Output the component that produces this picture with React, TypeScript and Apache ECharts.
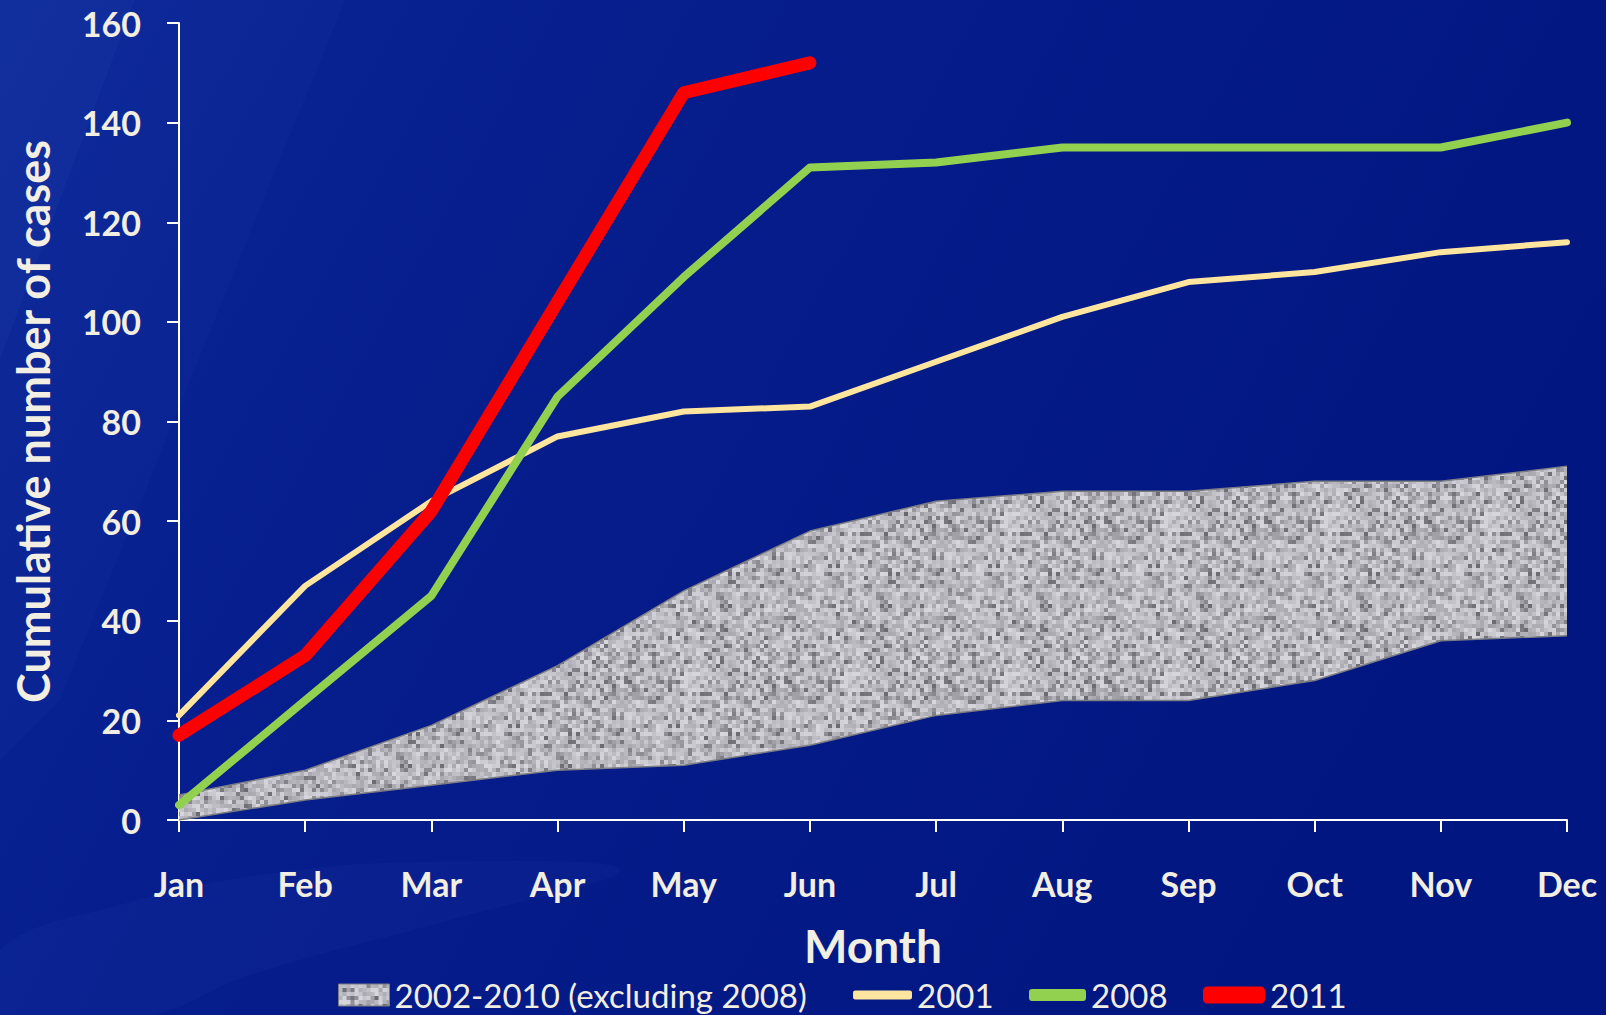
import React, { useEffect, useRef } from "react";
import * as echarts from "echarts";

const months = ["Jan", "Feb", "Mar", "Apr", "May", "Jun", "Jul", "Aug", "Sep", "Oct", "Nov", "Dec"];
const bandLow = [0, 4, 7, 10, 11, 15, 21, 24, 24, 28, 36, 37];
const bandHigh = [5, 10, 19, 31, 46, 58, 64, 66, 66, 68, 68, 71];
const cases2001 = [21, 47, 64, 77, 82, 83, 92, 101, 108, 110, 114, 116];
const cases2008 = [3, 24, 45, 85, 109, 131, 132, 135, 135, 135, 135, 140];
const cases2011 = [17, 33, 62, 104, 146, 152];
const yMin = 0;
const yMax = 160;
const yStep = 20;

const BAND_NAME = "2002-2010 (excluding 2008)";
const TEXT = "#f2eee2";
const FONT = "Lato, 'Noto Sans', sans-serif";

function makeNoiseCanvas(): HTMLCanvasElement {
  const c = document.createElement("canvas");
  const cells = 40;
  const px = 4;
  c.width = cells * px;
  c.height = cells * px;
  const ctx = c.getContext("2d") as CanvasRenderingContext2D;
  let s = 987654321;
  const rnd = () => {
    s = (s * 1103515245 + 12345) % 2147483648;
    return s / 2147483648;
  };
  for (let y = 0; y < cells; y++) {
    for (let x = 0; x < cells; x++) {
      let v = 168 + Math.floor(rnd() * 48);
      const r = rnd();
      if (r < 0.1) v = 105 + Math.floor(rnd() * 40);
      else if (r < 0.22) v = 140 + Math.floor(rnd() * 25);
      ctx.fillStyle = `rgb(${v},${v},${v + 6})`;
      ctx.fillRect(x * px, y * px, px, px);
    }
  }
  return c;
}

export default function App() {
  const ref = useRef<HTMLDivElement>(null);
  useEffect(() => {
    document.body.style.margin = "0";
    if (!ref.current) return;
    const chart = echarts.init(ref.current, undefined, { renderer: "svg" });
    const noise = makeNoiseCanvas();
    const pattern: any = { image: noise, repeat: "repeat" };
    const bandDiff = bandHigh.map((v, i) => v - bandLow[i]);

    const legendText = { color: TEXT, fontFamily: FONT, fontSize: 33, lineHeight: 36 };
    const legendBase = {
      top: 977,
      padding: 0,
      selectedMode: false,
      textStyle: legendText,
    };

    chart.setOption({
      animation: false,
      backgroundColor: new echarts.graphic.LinearGradient(0, 0, 1, 0.35, [
        { offset: 0, color: "#0b2797" },
        { offset: 0.4, color: "#061d8c" },
        { offset: 1, color: "#011680" },
      ]),
      graphic: [
        {
          type: "polygon",
          z: -10,
          silent: true,
          shape: { points: [[0, 0], [135, 0], [0, 360]] },
          style: { fill: "rgba(120,150,255,0.07)" },
        },
        {
          type: "polygon",
          z: -10,
          silent: true,
          shape: { points: [[135, 0], [345, 0], [60, 700], [0, 760], [0, 360]] },
          style: { fill: "rgba(120,150,255,0.035)" },
        },
        {
          type: "polygon",
          z: -10,
          silent: true,
          shape: {
            points: [[0, 1015], [0, 950], [120, 905], [260, 875], [420, 862], [620, 870], [450, 920], [250, 975], [150, 1015]],
            smooth: 0.4,
          },
          style: { fill: "rgba(120,150,255,0.04)" },
        },
      ],
      grid: { left: 179, right: 39, top: 23, bottom: 195, containLabel: false },
      legend: [
        {
          ...legendBase,
          left: 338,
          icon: "rect",
          itemWidth: 51,
          itemHeight: 22,
          data: [{ name: BAND_NAME, itemStyle: { color: pattern, borderColor: "#7c7c84", borderWidth: 1 } }],
        },
        {
          ...legendBase,
          left: 853,
          icon: "roundRect",
          itemWidth: 59,
          itemHeight: 9,
          data: [{ name: "2001", itemStyle: { color: "#ffe59e" } }],
        },
        {
          ...legendBase,
          left: 1029,
          icon: "roundRect",
          itemWidth: 57,
          itemHeight: 12,
          data: [{ name: "2008", itemStyle: { color: "#92d050" } }],
        },
        {
          ...legendBase,
          left: 1203,
          icon: "roundRect",
          itemWidth: 62,
          itemHeight: 17,
          data: [{ name: "2011", itemStyle: { color: "#ff0000" } }],
        },
      ],
      xAxis: {
        type: "category",
        data: months,
        boundaryGap: false,
        name: "Month",
        nameLocation: "middle",
        nameGap: 102,
        nameTextStyle: { color: TEXT, fontFamily: FONT, fontSize: 46, fontWeight: "bold" },
        axisLine: { lineStyle: { color: "#ffffff", width: 2 } },
        axisTick: { show: true, length: 12, lineStyle: { color: "#ffffff", width: 2 } },
        axisLabel: { color: TEXT, fontFamily: FONT, fontSize: 34, fontWeight: "bold", margin: 46 },
        splitLine: { show: false },
      },
      yAxis: {
        type: "value",
        min: yMin,
        max: yMax,
        interval: yStep,
        name: "Cumulative number of cases",
        nameLocation: "middle",
        nameGap: 124,
        nameTextStyle: { color: TEXT, fontFamily: FONT, fontSize: 45, fontWeight: "bold" },
        axisLine: { show: true, lineStyle: { color: "#ffffff", width: 2 } },
        axisTick: { show: true, length: 12, lineStyle: { color: "#ffffff", width: 2 } },
        axisLabel: { color: TEXT, fontFamily: FONT, fontSize: 34, fontWeight: "bold", margin: 38 },
        splitLine: { show: false },
      },
      series: [
        {
          name: "band-low",
          type: "line",
          stack: "band",
          data: bandLow,
          symbol: "none",
          showSymbol: false,
          lineStyle: { color: "#7c7c84", width: 1.5 },
          itemStyle: { color: "#7c7c84" },
          z: 2,
        },
        {
          name: BAND_NAME,
          type: "line",
          stack: "band",
          data: bandDiff,
          symbol: "none",
          showSymbol: false,
          lineStyle: { color: "#7c7c84", width: 1.5 },
          itemStyle: { color: pattern },
          areaStyle: { color: pattern, opacity: 1 },
          z: 2,
        },
        {
          name: "2001",
          type: "line",
          data: cases2001,
          symbol: "none",
          showSymbol: false,
          color: "#ffe59e",
          lineStyle: { color: "#ffe59e", width: 6, cap: "round", join: "round" },
          z: 3,
        },
        {
          name: "2008",
          type: "line",
          data: cases2008,
          symbol: "none",
          showSymbol: false,
          color: "#92d050",
          lineStyle: { color: "#92d050", width: 8, cap: "round", join: "round" },
          z: 4,
        },
        {
          name: "2011",
          type: "line",
          data: cases2011,
          symbol: "none",
          showSymbol: false,
          color: "#ff0000",
          lineStyle: { color: "#ff0000", width: 13, cap: "round", join: "round" },
          z: 5,
        },
      ],
    });
    return () => chart.dispose();
  }, []);
  return <div ref={ref} style={{ width: 1606, height: 1015 }} />;
}
